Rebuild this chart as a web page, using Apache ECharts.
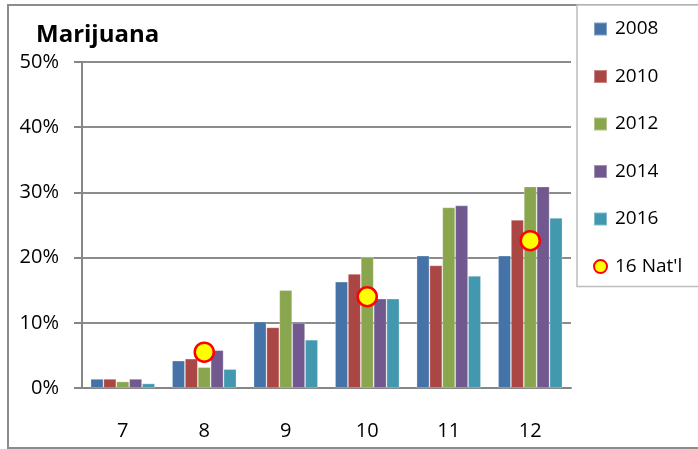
<!DOCTYPE html>
<html>
<head>
<meta charset="utf-8">
<script src="https://cdn.jsdelivr.net/npm/echarts@6/dist/echarts.min.js"></script>
<style>
  html, body { margin: 0; padding: 0; background: #fff; }
  #main { width: 698px; height: 449px; }
</style>
</head>
<body>
<div id="main"></div>
<script>
// grade levels
var grades = ['7', '8', '9', '10', '11', '12'];
// percent reporting use, by survey year
var y2008 = [1.4, 4.2, 10.2, 16.3, 20.3, 20.3];
var y2010 = [1.4, 4.5, 9.3, 17.5, 18.8, 25.8];
var y2012 = [1.0, 3.2, 15.0, 20.1, 27.7, 30.9];
var y2014 = [1.4, 5.8, 10.0, 13.7, 28.0, 30.9];
var y2016 = [0.7, 2.9, 7.4, 13.7, 17.2, 26.1];
// 2016 national comparison, only for grades 8, 10, 12
var nat16 = [null, 5.5, null, 14.0, null, 22.6];

var colors = ['#4572A7', '#AA4643', '#89A54E', '#71588F', '#4198AF'];
var font = 'Open Sans';

var chartDom = document.getElementById('main');
var myChart = echarts.init(chartDom);
var option;

function barSeries(name, data, color) {
  return {
    name: name,
    type: 'bar',
    data: data,
    barGap: '0%',
    barCategoryGap: '21%',
    itemStyle: { color: color, borderColor: 'rgba(255,255,255,0.35)', borderWidth: 0.8 }
  };
}

option = {
  animation: false,
  textStyle: { fontFamily: font },
  title: {
    text: 'Marijuana',
    left: 31,
    top: 18,
    textStyle: { fontFamily: font, fontSize: 24, fontWeight: 'bold', color: '#000' }
  },
  graphic: [{
    type: 'rect',
    shape: { x: 8, y: 5, width: 700, height: 443 },
    style: { fill: 'none', stroke: '#8c8c8c', lineWidth: 2 },
    z: -1
  }],
  legend: {
    orient: 'vertical',
    left: 577,
    top: 5,
    padding: [14, 40, 10, 16],
    itemGap: 27.5,
    itemWidth: 13,
    itemHeight: 13,
    backgroundColor: '#fff',
    borderColor: '#bdbdbd',
    borderWidth: 1.5,
    textStyle: { fontFamily: font, fontSize: 19, color: '#000', lineHeight: 20, padding: [0, 0, 0, 3] },
    data: [
      { name: '2008', icon: 'rect' },
      { name: '2010', icon: 'rect' },
      { name: '2012', icon: 'rect' },
      { name: '2014', icon: 'rect' },
      { name: '2016', icon: 'rect' },
      { name: "16 Nat'l", icon: 'circle' }
    ]
  },
  grid: { left: 82, right: 127, top: 62, bottom: 61 },
  xAxis: {
    type: 'category',
    data: grades,
    axisLine: { lineStyle: { color: '#868686', width: 2 } },
    axisTick: { length: 6, lineStyle: { color: '#868686', width: 2 } },
    axisLabel: { color: '#000', fontSize: 20, margin: 33 }
  },
  yAxis: {
    type: 'value',
    min: 0,
    max: 50,
    interval: 10,
    axisLine: { show: true, lineStyle: { color: '#868686', width: 2 } },
    axisTick: { show: true, length: 8, lineStyle: { color: '#868686', width: 2 } },
    axisLabel: { color: '#000', fontSize: 20, margin: 23, formatter: '{value}%' },
    splitLine: { lineStyle: { color: '#8c8c8c', width: 2 } }
  },
  series: [
    barSeries('2008', y2008, colors[0]),
    barSeries('2010', y2010, colors[1]),
    barSeries('2012', y2012, colors[2]),
    barSeries('2014', y2014, colors[3]),
    barSeries('2016', y2016, colors[4]),
    {
      name: "16 Nat'l",
      type: 'scatter',
      data: nat16,
      symbol: 'circle',
      symbolSize: 19,
      z: 10,
      itemStyle: { color: '#ffff00', borderColor: '#ff0000', borderWidth: 2.5, opacity: 1 }
    }
  ]
};

option && myChart.setOption(option);
</script>
</body>
</html>
